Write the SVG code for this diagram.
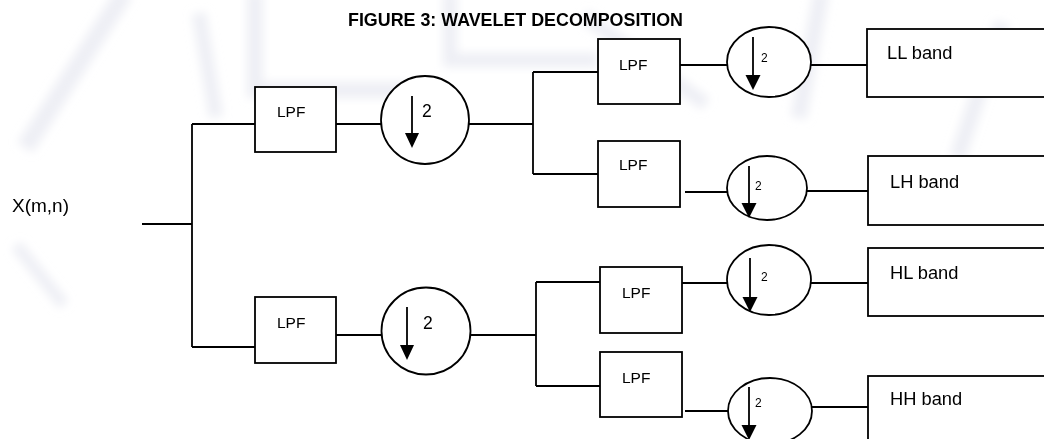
<svg xmlns="http://www.w3.org/2000/svg" width="1044" height="439" viewBox="0 0 1044 439">
<style>
  .ln { fill: none; stroke: #000; stroke-width: 1.8; }
  .box { fill: #fff; stroke: #000; stroke-width: 1.8; }
  .ds { fill: #fff; stroke: #000; stroke-width: 1.8; }
  .t { font-family: "Liberation Sans", Arial, sans-serif; fill: #000; }
  .lpf { font-size: 15.5px; }
  .band { font-size: 18.3px; }
  .big2 { font-size: 17.5px; }
  .sm2 { font-size: 12px; }
  .wm { fill: none; stroke: #e3e5ee; stroke-linecap: square; opacity: 0.6; }
</style>
<defs>
  <filter id="blur" x="-20%" y="-20%" width="140%" height="140%"><feGaussianBlur stdDeviation="5"/></filter>
</defs>
<rect width="1044" height="439" fill="#fff"/>
<g id="watermark" filter="url(#blur)">
  <path class="wm" stroke-width="18" d="M120,0 L30,140"/>
  <path class="wm" stroke-width="14" d="M200,20 L215,110"/>
  <path class="wm" stroke-width="16" d="M255,0 V90 H400"/>
  <path class="wm" stroke-width="14" d="M450,0 V60 H590"/>
  <path class="wm" stroke-width="14" d="M590,20 L700,100"/>
  <path class="wm" stroke-width="16" d="M820,0 L800,110"/>
  <path class="wm" stroke-width="16" d="M1000,30 L960,150"/>
  <path class="wm" stroke-width="12" d="M20,250 L60,300"/>
</g>
<text class="t" x="348" y="26" font-size="17.5" font-weight="bold" textLength="335" lengthAdjust="spacingAndGlyphs">FIGURE 3: WAVELET DECOMPOSITION</text>
<text id="input" class="t" x="12" y="212" font-size="19">X(m,n)</text>
<g id="connectors" class="ln">
  <path d="M142,224 H192 M192,124 V347 M192,124 H255 M192,347 H255"/>
  <path d="M336,124 H381 M469,124 H533"/>
  <path d="M533,72 V174 M533,72 H598 M533,174 H598"/>
  <path d="M680,65 H727 M811,65 H867"/>
  <path d="M685,192 H727 M807,191 H868"/>
  <path d="M336,335 H382 M471,335 H536"/>
  <path d="M536,282 V386 M536,282 H600 M536,386 H600"/>
  <path d="M682,283 H727 M811,283 H868"/>
  <path d="M685,411 H728 M812,407 H868"/>
</g>
<g id="lpf1"><rect class="box" x="255" y="87" width="81" height="65"/><text class="t lpf" x="277" y="117">LPF</text></g>
<g id="ds1"><circle class="ds" cx="425" cy="120" r="44"/><path class="ln" d="M412,96 V134"/><polygon points="405,133 419,133 412,148"/><text class="t big2" x="422" y="117">2</text></g>
<g id="lpf6"><rect class="box" x="255" y="297" width="81" height="66"/><text class="t lpf" x="277" y="328">LPF</text></g>
<g id="ds6"><ellipse class="ds" cx="426" cy="331" rx="44.5" ry="43.5"/><path class="ln" d="M407,307 V346"/><polygon points="400,345 414,345 407,360"/><text class="t big2" x="423" y="329">2</text></g>
<g id="lpf2"><rect class="box" x="598" y="39" width="82" height="65"/><text class="t lpf" x="619" y="70">LPF</text></g>
<g id="ds2"><ellipse class="ds" cx="769" cy="62" rx="42" ry="35"/><path class="ln" d="M753,37 V76"/><polygon points="745.5,75 760.5,75 753,90"/><text class="t sm2" x="761" y="62">2</text></g>
<g id="ll"><rect class="box" x="867" y="29" width="190" height="68"/><text class="t band" x="887" y="59">LL band</text></g>
<g id="lpf3"><rect class="box" x="598" y="141" width="82" height="66"/><text class="t lpf" x="619" y="170">LPF</text></g>
<g id="ds3"><ellipse class="ds" cx="767" cy="188" rx="40" ry="32"/><path class="ln" d="M749,166 V204"/><polygon points="741.5,203 756.5,203 749,218"/><text class="t sm2" x="755" y="190">2</text></g>
<g id="lh"><rect class="box" x="868" y="156" width="190" height="69"/><text class="t band" x="890" y="188">LH band</text></g>
<g id="lpf4"><rect class="box" x="600" y="267" width="82" height="66"/><text class="t lpf" x="622" y="298">LPF</text></g>
<g id="ds4"><ellipse class="ds" cx="769" cy="280" rx="42" ry="35"/><path class="ln" d="M750,258 V298"/><polygon points="742.5,297 757.5,297 750,312"/><text class="t sm2" x="761" y="281">2</text></g>
<g id="hl"><rect class="box" x="868" y="248" width="190" height="68"/><text class="t band" x="890" y="279">HL band</text></g>
<g id="lpf5"><rect class="box" x="600" y="352" width="82" height="65"/><text class="t lpf" x="622" y="383">LPF</text></g>
<g id="ds5"><ellipse class="ds" cx="770" cy="411" rx="42" ry="33"/><path class="ln" d="M749,387 V426"/><polygon points="741.5,425 756.5,425 749,440"/><text class="t sm2" x="755" y="407">2</text></g>
<g id="hh"><rect class="box" x="868" y="376" width="190" height="80"/><text class="t band" x="890" y="405">HH band</text></g>
</svg>
